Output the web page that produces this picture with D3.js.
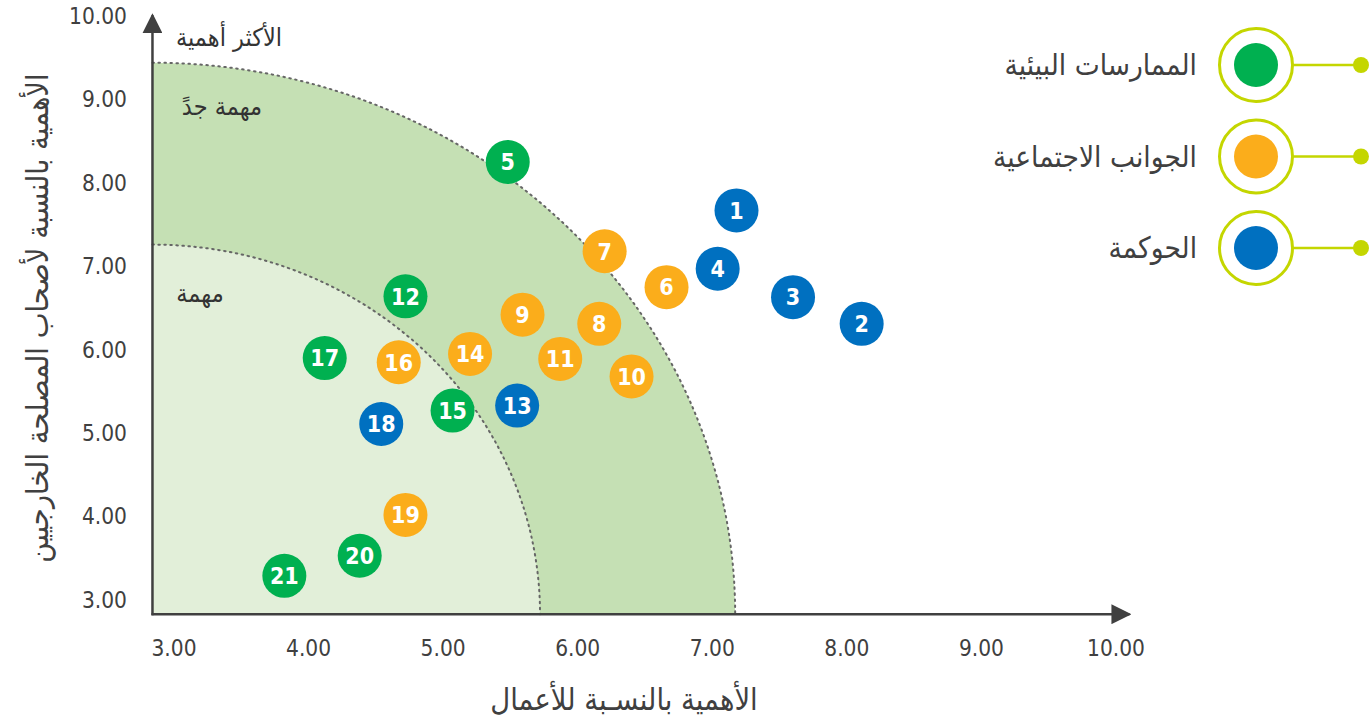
<!DOCTYPE html>
<html><head><meta charset="utf-8">
<script src="https://cdn.jsdelivr.net/npm/d3@7"></script>
<style>
html,body{margin:0;padding:0;background:#fff;}
svg text{font-family:"DejaVu Sans Condensed","DejaVu Sans",sans-serif;}
</style></head>
<body>
<svg id="chart" width="1372" height="723"></svg>
<script>
// ---- data ----
const ids   = [1,2,3,4,5,6,7,8,9,10,11,12,13,14,15,16,17,18,19,20,21];
const cats  = ["g","g","g","g","e","s","s","s","s","s","s","e","g","s","e","s","e","g","s","e","e"];
const xVals = [7.18,8.11,7.60,7.04,5.48,6.66,6.20,6.16,5.59,6.40,5.87,4.72,5.55,5.20,5.07,4.67,4.12,4.54,4.72,4.38,3.82];
const yVals = [7.67,6.31,6.63,6.97,8.25,6.75,7.18,6.31,6.42,5.68,5.89,6.64,5.33,5.95,5.27,5.85,5.90,5.11,4.02,3.53,3.29];
const tickVals = [3,4,5,6,7,8,9,10];
const tickLabels = ["3.00","4.00","5.00","6.00","7.00","8.00","9.00","10.00"];
const legendKeys = ["e","s","g"];
const legendNames = ["الممارسات البيئية","الجوانب الاجتماعية","الحوكمة"];
const legendColors = ["#00b050","#fbad1b","#0070c0"];
const zoneXEdge = [5.72, 7.17];   // inner, outer boundary on x axis
const zoneYEdge = [7.26, 9.44];   // inner, outer boundary on y axis
const zoneNames = ["مهمة","مهمة جدً"];
const axisOrigin = [2.84, 2.83];
const axisEnd = [10.10, 10.01];
const xTitle = "الأهمية بالنسـبة للأعمال";
const yTitle = "الأهمية بالنسبة لأصحاب المصلحة الخارجيين";
const topNote = "الأكثر أهمية";

const svg = d3.select("#chart");
const x = d3.scaleLinear().domain([3,10]).range([174,1116]);
const y = d3.scaleLinear().domain([3,10]).range([600,16]);
const color = d3.scaleOrdinal().domain(legendKeys).range(legendColors);

const ox = x(axisOrigin[0]), oy = y(axisOrigin[1]);
const axisCol = "#404040";

// zones
const zoneFills = ["#e2efd9","#c5e0b4"];
function arcPath(i, closed){
  const rx = x(zoneXEdge[i]) - ox, ry = oy - y(zoneYEdge[i]);
  const p = `M${ox},${oy-ry} A${rx},${ry} 0 0 1 ${ox+rx},${oy}`;
  return closed ? p + ` L${ox},${oy} Z` : p;
}
[1,0].forEach(i=>{
  svg.append("path").attr("d", arcPath(i,true)).attr("fill", zoneFills[i]);
});
[1,0].forEach(i=>{
  svg.append("path").attr("d", arcPath(i,false)).attr("fill","none")
    .attr("stroke","#666").attr("stroke-width",2).attr("stroke-dasharray","1.5,4.5")
    .attr("stroke-linecap","round");
});

// zone labels
svg.append("text").attr("x",222).attr("y",115).attr("text-anchor","middle")
  .attr("font-size",25).attr("fill","#333").text(zoneNames[1]);
svg.append("text").attr("x",200).attr("y",302).attr("text-anchor","middle")
  .attr("font-size",25).attr("fill","#333").text(zoneNames[0]);
svg.append("text").attr("x",229).attr("y",46).attr("text-anchor","middle")
  .attr("font-size",25).attr("fill","#333").text(topNote);

// axes with arrows
const defs = svg.append("defs");
defs.append("marker").attr("id","arr").attr("viewBox","0 0 10 10")
  .attr("refX",9).attr("refY",5).attr("markerWidth",20).attr("markerHeight",20)
  .attr("markerUnits","userSpaceOnUse").attr("orient","auto")
  .append("path").attr("d","M0,0 L10,5 L0,10 Z").attr("fill",axisCol);

svg.append("line").attr("x1",ox).attr("y1",oy+1).attr("x2",ox).attr("y2",y(axisEnd[1]))
  .attr("stroke",axisCol).attr("stroke-width",2.5).attr("marker-end","url(#arr)");
svg.append("line").attr("x1",ox-1).attr("y1",oy).attr("x2",x(axisEnd[0])).attr("y2",oy)
  .attr("stroke",axisCol).attr("stroke-width",2.5).attr("marker-end","url(#arr)");

// tick labels
svg.append("g").selectAll("text").data(tickVals).join("text")
  .attr("x",d=>x(d)).attr("y",656).attr("text-anchor","middle")
  .attr("font-size",22.5).attr("fill",axisCol).text((d,i)=>tickLabels[i]);
svg.append("g").selectAll("text").data(tickVals).join("text")
  .attr("x",127).attr("y",d=>y(d)).attr("dy","0.35em").attr("text-anchor","end")
  .attr("font-size",22.5).attr("fill",axisCol).text((d,i)=>tickLabels[i]);

// axis titles
svg.append("text").attr("x",624).attr("y",710).attr("text-anchor","middle")
  .attr("font-size",30.5).attr("fill",axisCol).text(xTitle);
svg.append("text").attr("transform","translate(48,318) rotate(-90)").attr("text-anchor","middle")
  .attr("font-size",30.5).attr("fill",axisCol).text(yTitle);

// points
const pts = ids.map((id,i)=>({id, c:cats[i], x:xVals[i], y:yVals[i]}));
const g = svg.append("g").selectAll("g").data(pts).join("g")
  .attr("transform",d=>`translate(${x(d.x)},${y(d.y)})`);
g.append("circle").attr("r",22).attr("fill",d=>color(d.c));
g.append("text").attr("text-anchor","middle").attr("dy","0.36em")
  .attr("font-size",23).attr("font-weight","bold").attr("fill","#fff")
  .text(d=>d.id);

// legend
const lg = svg.append("g").selectAll("g").data(legendKeys).join("g")
  .attr("transform",(d,i)=>`translate(1256,${65+i*91.5})`);
lg.append("line").attr("x1",37).attr("x2",105).attr("y1",0).attr("y2",0)
  .attr("stroke","#c4d600").attr("stroke-width",2.5);
lg.append("circle").attr("cx",105).attr("r",8).attr("fill","#c4d600");
lg.append("circle").attr("r",36.5).attr("fill","#fff").attr("stroke","#c4d600").attr("stroke-width",3);
lg.append("circle").attr("r",22).attr("fill",d=>color(d));
lg.append("text").attr("x",-59).attr("dy","0.35em").attr("text-anchor","end")
  .attr("font-size",29.5).attr("fill",axisCol).text((d,i)=>legendNames[i]);
</script>
</body></html>
